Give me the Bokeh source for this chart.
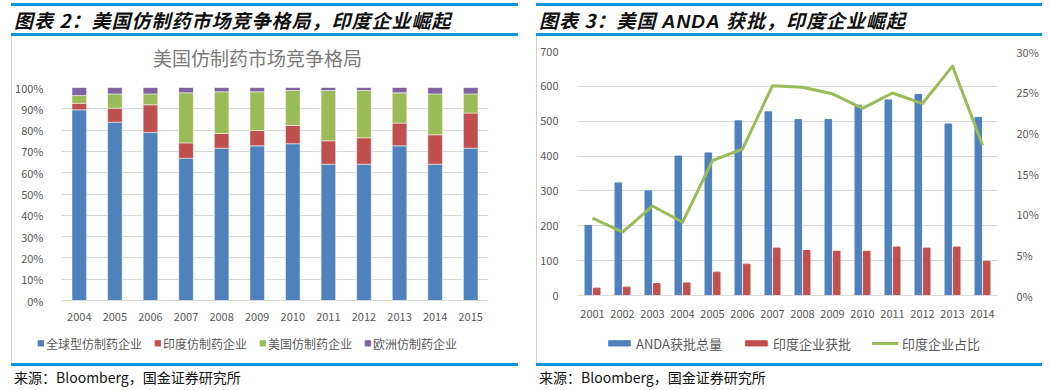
from bokeh.plotting import figure
from bokeh.models import (ColumnDataSource, FactorRange, Range1d, LinearAxis, Legend, LegendItem,
                          PrintfTickFormatter, Div, FixedTicker)
from bokeh.layouts import row, column
from bokeh.transform import dodge
from bokeh.embed import file_html
from bokeh.resources import INLINE

# ---------------- data: left chart (US generic market share, %) ----------------
years_l = ["2004", "2005", "2006", "2007", "2008", "2009", "2010", "2011", "2012", "2013", "2014", "2015"]
global_share = [89.5, 83.7, 78.9, 66.8, 71.5, 72.6, 73.6, 64.0, 64.0, 72.6, 64.0, 71.5]
india_share = [3.1, 6.6, 13.0, 7.2, 6.9, 7.2, 8.6, 11.0, 12.4, 10.7, 13.8, 16.5]
us_share = [3.6, 6.7, 5.1, 23.5, 19.6, 18.2, 16.4, 23.6, 22.2, 14.2, 19.2, 9.0]
eu_share = [3.8, 3.0, 3.0, 2.5, 2.0, 2.0, 1.4, 1.4, 1.4, 2.5, 3.0, 3.0]
series_l = ["全球型仿制药企业", "印度仿制药企业", "美国仿制药企业", "欧洲仿制药企业"]
left_title = "美国仿制药市场竞争格局"

# ---------------- data: right chart (ANDA approvals) ----------------
years_r = ["2001", "2002", "2003", "2004", "2005", "2006", "2007", "2008", "2009", "2010", "2011", "2012", "2013", "2014"]
anda_total = [201, 323, 300, 400, 409, 501, 527, 505, 505, 546, 561, 577, 492, 511]
india_approved = [21, 24, 34, 36, 67, 90, 136, 129, 127, 127, 139, 136, 139, 98]
india_pct = [9.5, 7.8, 11.0, 9.0, 16.6, 18.0, 25.8, 25.6, 24.8, 23.0, 24.9, 23.6, 28.2, 18.5]
series_r = ["ANDA获批总量", "印度企业获批", "印度企业占比"]

header_l = "图表 2：美国仿制药市场竞争格局，印度企业崛起"
header_r = "图表 3：美国 <span style=\"font-family:'Liberation Sans';\">ANDA</span> 获批，印度企业崛起"
source_txt = "来源：Bloomberg，国金证券研究所"

BLUE, RED, GREEN, PURPLE = "#4f81bd", "#c0504d", "#9bbb59", "#8064a2"
CJK = "Noto Sans CJK SC"
LBL = "#595959"
GRID = "#d9d9d9"
BAR_BLUE = "#0a96dc"
BG = "#fdf8ee"
NAN = float("nan")


def header(text, w):
    html = ("<div style=\"height:3px;\"></div>"
            "<div style=\"box-sizing:border-box;width:%dpx;height:33px;border-top:3px solid %s;"
            "border-bottom:3px solid %s;font-family:'%s';font-size:19px;letter-spacing:1px;font-weight:bold;"
            "font-style:italic;line-height:27px;color:#111;padding-left:3px;white-space:nowrap;overflow:hidden;\">%s</div>"
            % (w, BAR_BLUE, BAR_BLUE, CJK, text))
    return Div(text=html, width=w, height=36, margin=0)


def footer(w):
    html = ("<div style=\"box-sizing:border-box;width:%dpx;height:27px;border-top:3px solid %s;"
            "font-family:'%s';font-size:14px;line-height:22px;color:#111;padding-left:3px;white-space:nowrap;\">%s</div>"
            % (w, BAR_BLUE, CJK, source_txt))
    return Div(text=html, width=w, height=27, margin=0)


def chart_title(text, w, h):
    html = ("<div style=\"width:%dpx;height:%dpx;background-color:white;text-align:center;"
            "font-family:'%s';font-size:19px;line-height:%dpx;color:#7a7a7a;white-space:nowrap;\">%s</div>"
            % (w, h, CJK, h + 4, text))
    return Div(text=html, width=w, height=h, margin=0)


def gap(w, h, color=None):
    bg = "background-color:%s;" % color if color else ""
    return Div(text="<div style=\"width:%dpx;height:%dpx;%s\"></div>" % (w, h, bg), width=w, height=h, margin=0)


def style_common(p):
    p.background_fill_color = "white"
    p.border_fill_color = "white"
    p.outline_line_color = None
    p.ygrid.grid_line_color = GRID
    p.xgrid.grid_line_color = None
    for ax in p.axis:
        ax.major_tick_line_color = None
        ax.minor_tick_line_color = None
        ax.major_label_text_font = CJK
        ax.major_label_text_font_size = "11px"
        ax.major_label_text_color = LBL
    p.xaxis.axis_line_color = GRID
    p.yaxis.axis_line_color = None


def legend_fig(w, h, names, colors, kinds, font_size, gw, gh, standoff, spacing):
    lf = figure(width=w, height=h, x_range=Range1d(0, 1), y_range=Range1d(0, 1),
                x_axis_type=None, y_axis_type=None, output_backend="svg", toolbar_location=None,
                min_border_left=0, min_border_right=0, min_border_top=0, min_border_bottom=0)
    lf.background_fill_color = "white"
    lf.border_fill_color = "white"
    lf.outline_line_color = None
    items = []
    for name, c, k in zip(names, colors, kinds):
        src = ColumnDataSource(dict(x=[NAN], y=[NAN]))  # legend proxy, draws nothing
        if k == "line":
            r = lf.line(x="x", y="y", source=src, line_color=c, line_width=3)
        else:
            r = lf.vbar(x="x", top="y", width=0.1, source=src, fill_color=c, line_color=c)
        items.append(LegendItem(label=name, renderers=[r]))
    leg = Legend(items=items, location="center", orientation="horizontal",
                 glyph_width=gw, glyph_height=gh, label_standoff=standoff, spacing=spacing,
                 padding=0, margin=0, label_text_font=CJK, label_text_font_size=font_size,
                 label_text_color=LBL, border_line_color=None, background_fill_alpha=0)
    lf.add_layout(leg, "center")
    return lf


# ---------------- left figure ----------------
src_l = ColumnDataSource(dict(year=years_l, g=global_share, i=india_share, u=us_share, e=eu_share))
pl = figure(width=491, height=247, x_range=FactorRange(*years_l), y_range=Range1d(0, 100),
            output_backend="svg", toolbar_location=None,
            min_border_left=47, min_border_right=15, min_border_top=11, min_border_bottom=23)
pl.vbar_stack(["g", "i", "u", "e"], x="year", width=0.41, source=src_l,
              color=[BLUE, RED, GREEN, PURPLE], line_color="white", line_width=0.5)
style_common(pl)
pl.yaxis.ticker = FixedTicker(ticks=list(range(0, 101, 10)))
pl.yaxis.formatter = PrintfTickFormatter(format="%d%%")
pl.yaxis.major_label_standoff = 12
pl.xaxis.major_label_standoff = 6
leg_l = legend_fig(470, 40, series_l, [BLUE, RED, GREEN, PURPLE], ["bar"] * 4, "12px", 7, 7, 2, 12)

# ---------------- right figure ----------------
src_r = ColumnDataSource(dict(year=years_r, total=anda_total, india=india_approved, pct=india_pct))
pr = figure(width=504, height=287, x_range=FactorRange(*years_r), y_range=Range1d(0, 700),
            output_backend="svg", toolbar_location=None,
            min_border_left=40, min_border_right=36, min_border_top=15, min_border_bottom=28)
pr.extra_y_ranges = {"pct": Range1d(0, 30)}
pr.vbar(x=dodge("year", -0.14, range=pr.x_range), top="total", width=0.22, source=src_r, color=BLUE)
pr.vbar(x=dodge("year", 0.14, range=pr.x_range), top="india", width=0.22, source=src_r, color=RED)
pr.line(x="year", y="pct", source=src_r, y_range_name="pct", line_color=GREEN, line_width=3,
        line_join="round")
ax2 = LinearAxis(y_range_name="pct", ticker=FixedTicker(ticks=list(range(0, 31, 5))),
                 formatter=PrintfTickFormatter(format="%d%%"))
pr.add_layout(ax2, "right")
style_common(pr)
pr.yaxis.major_label_standoff = 13
pr.yaxis[0].ticker = FixedTicker(ticks=list(range(0, 701, 100)))
pr.xaxis.major_label_standoff = 8
leg_r = legend_fig(497, 40, series_r, [BLUE, RED, GREEN], ["bar", "bar", "line"], "13px", 27, 7, 4, 20)

left_chart = column(chart_title(left_title, 491, 40), pl,
                    row(leg_l, gap(21, 40, "white"), spacing=0), spacing=0)
right_chart = column(pr, row(gap(7, 40, "white"), leg_r, spacing=0), spacing=0)

left_panel = column(header(header_l, 507),
                    row(gap(1, 327, "#d0d0d0"), left_chart, gap(15, 327), spacing=0),
                    footer(507), spacing=0)
right_panel = column(header(header_r, 506),
                     row(gap(1, 327, "#d0d0d0"), right_chart, gap(1, 327), spacing=0),
                     footer(506), spacing=0)
layout = row(gap(11, 390), left_panel, gap(18, 390), right_panel, spacing=0)

html = file_html(layout, INLINE, title="chart")
html = html.replace("<body>", "<body style=\"background-color:%s;\">" % BG, 1)
open("out.html", "w").write(html)
